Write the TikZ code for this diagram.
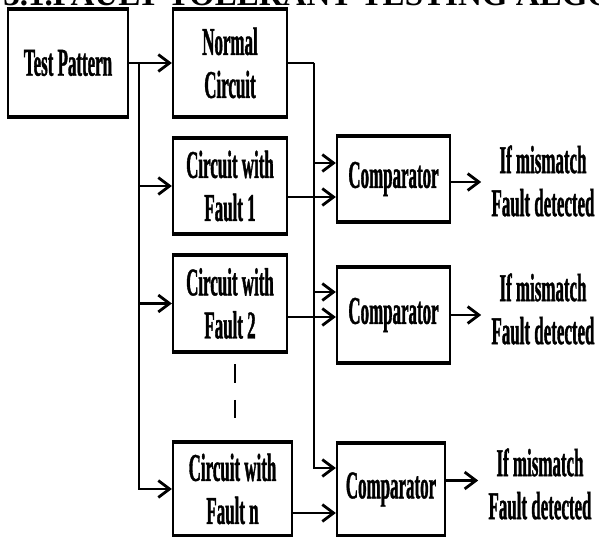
\documentclass[tikz,border=0pt]{standalone}
\usepackage{fontspec}
\setmainfont{Liberation Serif}[FakeStretch=0.43,BoldFeatures={FakeBold=0.9}]
\newfontfamily\headfont{Liberation Serif}
\usetikzlibrary{positioning,calc,arrows.meta}

\begin{document}
\begin{tikzpicture}[x=0.025cm,y=-0.025cm]
  % Styles local to this figure.
  \tikzset{
    lbl/.style={font=\bfseries\fontsize{28}{30.6}\selectfont,align=center,inner sep=0pt},
    blk/.style={draw,line width=1.6pt,lbl},
    wire/.style={line width=2pt},
    >={Straight Barb[length=8pt,width=12pt]}
  }
  \useasboundingbox (0,0) rectangle (599,537);

  % Heading, cut off by the top edge.
  \node[anchor=base west,inner sep=0pt,font=\headfont\bfseries\fontsize{23.5}{23.5}\selectfont] (head) at (3,6) {3.1.FAULT TOLERANT TESTING ALGO};

  % Source, reference circuit and faulty copies.
  \node[blk,minimum width=3cm,minimum height=2.65cm] (tp) at (68,63) {Test Pattern};
  \node[blk,minimum width=2.85cm,minimum height=2.65cm] (nc) at (230,63) {Normal\\Circuit};
  \node[blk,minimum width=2.85cm,minimum height=2.35cm] (f1) at (230,186) {Circuit with\\Fault 1};
  \node[blk,minimum width=2.85cm,minimum height=2.375cm] (f2) at (230,303.5) {Circuit with\\Fault 2};
  \node[blk,minimum width=2.975cm,minimum height=2.3cm] (fn) at (232.5,489) {Circuit with\\Fault n};

  % Comparators and their results.
  \node[blk,minimum width=2.825cm,minimum height=2.1cm] (c1) at (393.5,179) {Comparator};
  \node[blk,minimum width=2.825cm,minimum height=2.35cm] (c2) at (393.5,315) {Comparator};
  \node[blk,minimum width=2.7cm,minimum height=2.275cm] (c3) at (391,489.5) {Comparator};
  \node[lbl] (r1) at (543,181) {If mismatch\\Fault detected};
  \node[lbl] (r2) at (543,309) {If mismatch\\Fault detected};
  \node[lbl] (r3) at (540,484) {If mismatch\\Fault detected};

  % Heavier top and bottom edges on every box.
  \foreach \n in {tp,nc,f1,f2,fn,c1,c2,c3}
    \draw[line width=3pt] (\n.north west) -- (\n.north east) (\n.south west) -- (\n.south east);

  % Pattern bus.
  \coordinate (b1) at (139,63);
  \draw[wire,->] (tp) -- (nc);
  \draw[wire,->] (b1) |- (f1);
  \draw[wire,->] (b1) |- (f2);
  \draw[wire,->] (b1) |- (fn);

  % Reference output bus.
  \coordinate (b2) at (314,63);
  \draw[wire] (nc.east) -- (b2);
  \draw[wire,->] (b2) |- ($(c1.west)+(0,-16)$);
  \draw[wire,->] (b2) |- ($(c2.west)+(0,-23)$);
  \draw[wire,->] (b2) |- ($(c3.west)+(0,-21.5)$);

  % Faulty outputs into comparators.
  \coordinate (o1) at ($(f1.east)+(0,11)$);
  \coordinate (o2) at ($(f2.east)+(0,13.5)$);
  \coordinate (o3) at ($(fn.east)+(0,24)$);
  \draw[wire,->] (o1) -- (o1 -| c1.west);
  \draw[wire,->] (o2) -- (o2 -| c2.west);
  \draw[wire,->] (o3) -- (o3 -| c3.west);

  % Results.
  \coordinate (q1) at ($(c1.east)+(0,3)$);
  \coordinate (q3) at ($(c3.east)+(0,-9)$);
  \draw[wire,->] (q1) -- ($(q1 -| r1.west)+(-10,0)$);
  \draw[wire,->] (c2.east) -- ($(c2.east -| r2.west)+(-10,0)$);
  \draw[wire,->] (q3) -- ($(q3 -| r3.west)+(-10,0)$);

  % More faulty copies.
  \draw[wire,dash pattern=on 13.5pt off 12pt] ($(f2.south)+(5,12)$) -- ($(f2.south)+(5,66)$);
\end{tikzpicture}
\end{document}
